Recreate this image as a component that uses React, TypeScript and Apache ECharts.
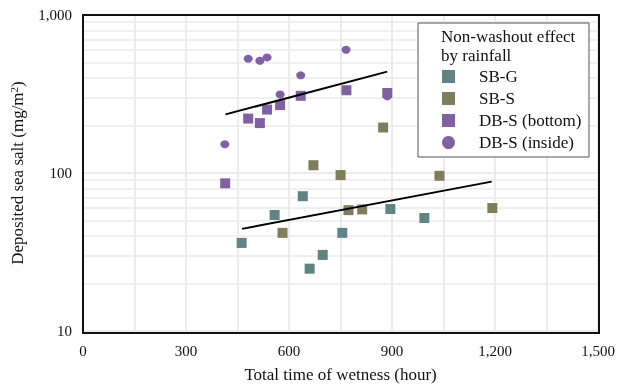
import React, { useEffect, useRef } from "react";
import * as echarts from "echarts";

const sbG: [number, number][] = [
  [462, 36.1], [558, 54.2], [640, 71.3], [660, 24.8], [698, 30.3],
  [755, 41.8], [895, 59.2], [994, 51.9],
];
const sbS: [number, number][] = [
  [581, 41.8], [671, 112], [750, 97], [773, 58.2], [813, 58.8],
  [874, 194], [1038, 96], [1192, 60],
];
const dbSBottom: [number, number][] = [
  [414, 86], [481, 221], [515, 207], [536, 252], [574, 269],
  [634, 308], [767, 334], [886, 321],
];
const dbSInside: [number, number][] = [
  [413, 152], [481, 528], [515, 514], [536, 539], [574, 314],
  [634, 415], [766, 602], [886, 306],
];
const trendUpper: [number, number][] = [[415, 235], [886, 438]];
const trendLower: [number, number][] = [[463, 44.3], [1190, 88.2]];
const minorYLines = [20, 30, 40, 50, 60, 70, 80, 90, 200, 300, 400, 500, 600, 700, 800, 900];

const FONT = "'Liberation Serif', 'Times New Roman', serif";
const C_TEAL = "#5f8483";
const C_OLIVE = "#807d5c";
const C_PURPLE = "#8062a3";

export default function App() {
  const ref = useRef<HTMLDivElement>(null);
  useEffect(() => {
    if (!ref.current) return;
    const chart = echarts.init(ref.current, undefined, { renderer: "svg" });
    chart.setOption({
      animation: false,
      grid: {
        left: 83, top: 15, right: 19, bottom: 55,
        show: false,
      },
      xAxis: {
        type: "value", min: 0, max: 1500, interval: 300,
        name: "Total time of wetness (hour)", nameLocation: "middle", nameGap: 35,
        nameTextStyle: { fontFamily: FONT, fontSize: 17, color: "#111" },
        axisLine: { show: false }, axisTick: { show: false },
        axisLabel: {
          fontFamily: FONT, fontSize: 15, color: "#111", margin: 12,
          formatter: (v: number) => v.toLocaleString("en-US"),
        },
        splitLine: { show: true, lineStyle: { color: "#e6e6e6", width: 1.5 } },
        minorTick: { show: false, splitNumber: 2 },
        minorSplitLine: { show: true, lineStyle: { color: "#e6e6e6", width: 1.5 } },
      },
      yAxis: {
        type: "log", logBase: 10, min: 10, max: 1000,
        name: "{a|Deposited sea salt (mg/m}{s|2}{a|)}",
        nameLocation: "middle", nameGap: 56, nameRotate: 90,
        nameTextStyle: {
          fontFamily: FONT, fontSize: 17, color: "#111",
          rich: {
            a: { fontFamily: FONT, fontSize: 17, color: "#111" },
            s: { fontFamily: FONT, fontSize: 11, color: "#111", verticalAlign: "top", padding: [0, 0, 8, 0] },
          },
        },
        axisLine: { show: false }, axisTick: { show: false },
        axisLabel: {
          fontFamily: FONT, fontSize: 15, color: "#111", margin: 11,
          formatter: (v: number) => v.toLocaleString("en-US"),
        },
        splitLine: { show: true, lineStyle: { color: "#e6e6e6", width: 1.5 } },
      },
      legend: {
        orient: "vertical", left: 437, top: 63, itemGap: 5, z: 20,
        itemWidth: 13, itemHeight: 13,
        textStyle: { fontFamily: FONT, fontSize: 17, color: "#111", padding: [0, 0, 0, 19] },
        data: [
          { name: "SB-G", icon: "rect" },
          { name: "SB-S", icon: "rect" },
          { name: "DB-S (bottom)", icon: "rect" },
          { name: "DB-S (inside)", icon: "circle" },
        ],
      },
      graphic: [
        {
          type: "rect", x: 418, y: 23, z: 5,
          shape: { width: 171, height: 134 },
          style: { fill: "#fff", stroke: "#555", lineWidth: 1 },
        },
        {
          type: "text", left: 441, top: 27, z: 6,
          style: {
            text: "Non-washout effect\nby rainfall", fontFamily: FONT, fontSize: 17,
            lineHeight: 19, fill: "#111",
          },
        },
        {
          type: "rect", x: 83, y: 15, z: 30, silent: true,
          shape: { width: 516, height: 318 },
          style: { fill: "none", stroke: "#111", lineWidth: 2 },
        },
      ],
      series: [
        {
          type: "line", data: [], silent: true, symbol: "none", z: 1,
          markLine: {
            silent: true, symbol: "none", label: { show: false }, z: 1,
            lineStyle: { color: "#ebebeb", width: 1.5, type: "solid" },
            data: minorYLines.map((v) => ({ yAxis: v })),
          },
        },
        {
          name: "SB-G", type: "scatter", data: sbG, symbol: "rect", symbolSize: 10,
          itemStyle: { color: C_TEAL, opacity: 1 }, z: 3,
        },
        {
          name: "SB-S", type: "scatter", data: sbS, symbol: "rect", symbolSize: 10,
          itemStyle: { color: C_OLIVE, opacity: 1 }, z: 3,
        },
        {
          name: "DB-S (bottom)", type: "scatter", data: dbSBottom, symbol: "rect", symbolSize: 10,
          itemStyle: { color: C_PURPLE, opacity: 1 }, z: 3,
        },
        {
          name: "DB-S (inside)", type: "scatter", data: dbSInside, symbol: "circle", symbolSize: [9, 8],
          itemStyle: { color: C_PURPLE, opacity: 1 }, z: 3,
        },
        {
          type: "line", data: trendUpper, symbol: "none", silent: true,
          lineStyle: { color: "#000", width: 2 }, z: 4,
        },
        {
          type: "line", data: trendLower, symbol: "none", silent: true,
          lineStyle: { color: "#000", width: 2 }, z: 4,
        },
      ],
    });
    return () => chart.dispose();
  }, []);
  return <div ref={ref} style={{ position: "fixed", left: 0, top: 0, width: 618, height: 388 }} />;
}
